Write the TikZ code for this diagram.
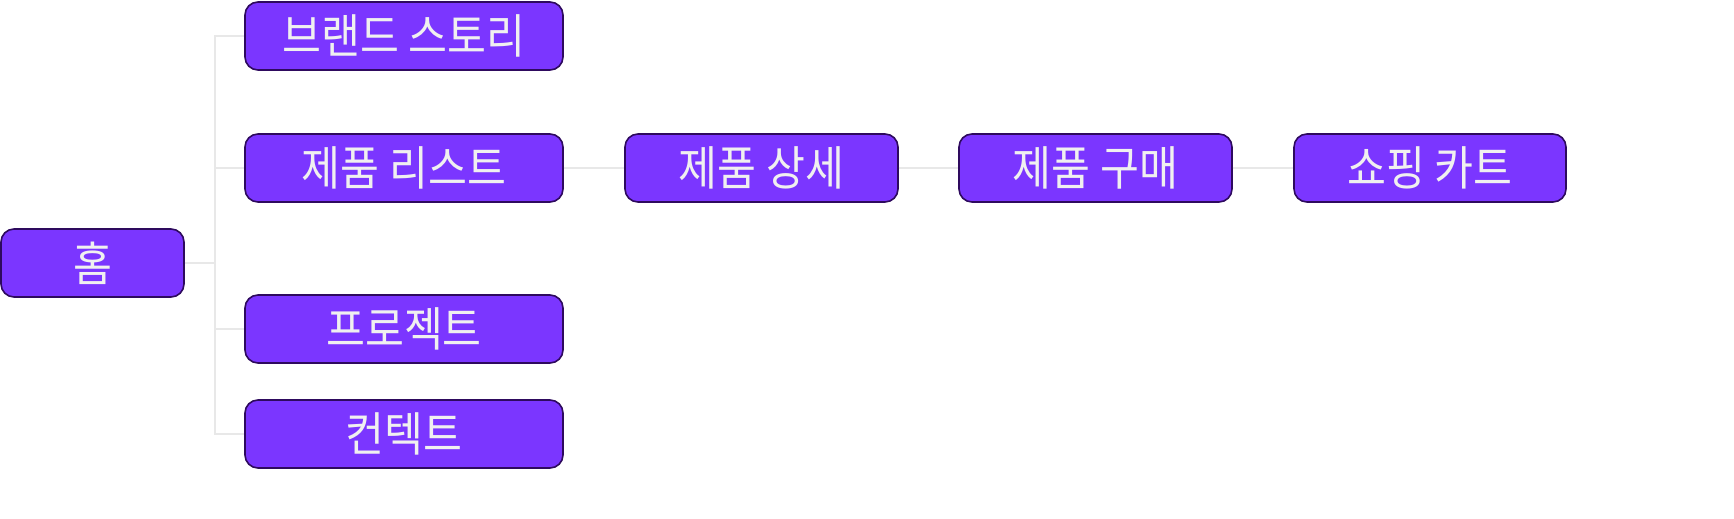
\documentclass[tikz,border=0pt]{standalone}
\usepackage{fontspec}
\newfontfamily\kr[FakeStretch=0.9]{Noto Sans CJK KR}
\definecolor{boxfill}{HTML}{7B36FF}
\definecolor{boxline}{HTML}{2E0A5E}
\definecolor{linkc}{HTML}{E8E8E8}
\definecolor{txt}{HTML}{F0F0F0}
\begin{document}
\begin{tikzpicture}[x=1pt,y=-1pt,
  pg/.style={draw=boxline,line width=1.6pt,fill=boxfill,rounded corners=13pt,
    minimum height=68pt,inner sep=0pt,text=txt,font=\kr\fontsize{47}{47}\selectfont},
  link/.style={draw=linkc,line width=2pt}]
\useasboundingbox (0,0) rectangle (1734,519);
\node[pg,minimum width=183pt] (home) at (92.5,263) {홈};
\node[pg,minimum width=318pt] (brand) at (404,36) {브랜드 스토리};
\node[pg,minimum width=318pt] (list) at (404,168) {제품 리스트};
\node[pg,minimum width=318pt] (proj) at (404,329) {프로젝트};
\node[pg,minimum width=318pt] (contact) at (404,434) {컨텍트};
\node[pg,minimum width=273pt] (detail) at (761.5,168) {제품 상세};
\node[pg,minimum width=273pt] (buy) at (1095.5,168) {제품 구매};
\node[pg,minimum width=272pt] (cart) at (1430,168) {쇼핑 카트};
\coordinate (j) at (215,263);
\draw[link] (home.east) -- (j);
\draw[link] (j) |- (brand.west);
\draw[link] (j) |- (list.west);
\draw[link] (j) |- (proj.west);
\draw[link] (j) |- (contact.west);
\draw[link] (list.east) -- (detail.west);
\draw[link] (detail.east) -- (buy.west);
\draw[link] (buy.east) -- (cart.west);
\end{tikzpicture}
\end{document}
